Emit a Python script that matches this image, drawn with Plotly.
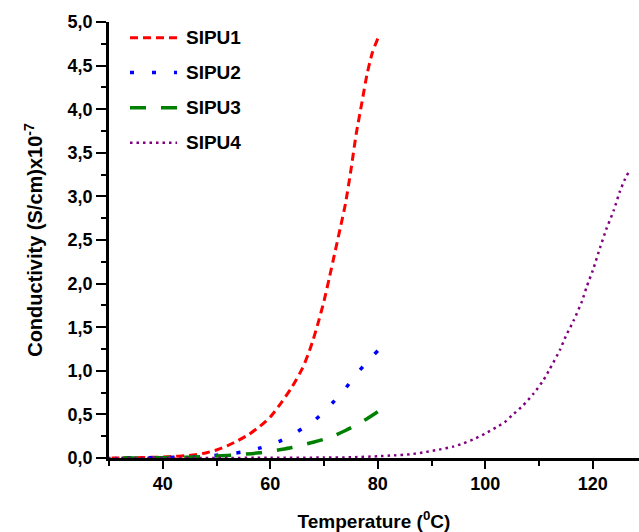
import plotly.graph_objects as go

# Conductivity (x10^-7 S/cm) versus temperature (deg C) for four samples
t_sipu1 = [30, 32, 34, 36, 38, 40, 42, 44, 46, 48, 50, 52, 54, 56, 58, 60, 62, 64,
           66, 67, 68, 69, 70, 71, 72, 73, 74, 75, 76, 77, 78, 79, 80]
c_sipu1 = [0.000, 0.001, 0.003, 0.005, 0.008, 0.012, 0.017, 0.025, 0.037, 0.058,
           0.092, 0.14, 0.20, 0.27, 0.36, 0.47, 0.63, 0.81, 1.03, 1.18, 1.36, 1.57,
           1.80, 2.07, 2.35, 2.63, 2.92, 3.30, 3.72, 4.06, 4.40, 4.65, 4.81]

t_sipu2 = [30, 35, 40, 44, 48, 51, 55, 58, 60, 62, 64, 66, 68, 70, 72, 74, 76, 78, 80]
c_sipu2 = [0.000, 0.002, 0.005, 0.010, 0.020, 0.038, 0.070, 0.113, 0.15, 0.20,
           0.26, 0.34, 0.42, 0.53, 0.66, 0.80, 0.96, 1.10, 1.23]

t_sipu3 = [30, 35, 40, 45, 50, 52, 55, 58, 60, 62, 64, 66, 68, 70, 72, 74, 76, 78, 80]
c_sipu3 = [0.000, 0.001, 0.004, 0.010, 0.022, 0.030, 0.042, 0.060, 0.078, 0.097,
           0.12, 0.15, 0.18, 0.215, 0.26, 0.315, 0.38, 0.45, 0.53]

t_sipu4 = [30, 40, 50, 60, 70, 75, 80, 83, 86, 89, 91.4, 94, 95.8, 98, 100, 102,
           103.6, 105, 107, 109, 110.8, 112, 113.9, 115, 116.4, 118, 118.9, 120,
           121.4, 122.5, 123.9, 125, 126, 126.6]
c_sipu4 = [0.000, 0.000, 0.001, 0.002, 0.005, 0.008, 0.020, 0.030, 0.042, 0.070,
           0.096, 0.13, 0.165, 0.22, 0.28, 0.35, 0.41, 0.49, 0.60, 0.74, 0.89,
           1.02, 1.24, 1.40, 1.57, 1.80, 1.97, 2.15, 2.42, 2.62, 2.84, 3.05, 3.20,
           3.27]

names = ["SIPU1", "SIPU2", "SIPU3", "SIPU4"]
colors = ["#FF0000", "#0000FF", "#008000", "#800080"]
widths = [3, 3.5, 3.5, 2.5]
dashes = ["8px,5px", "4px,18px", "16px,15px", "2.5px,4px"]
series = [(t_sipu1, c_sipu1), (t_sipu2, c_sipu2), (t_sipu3, c_sipu3), (t_sipu4, c_sipu4)]

FONT = "Liberation Sans, Arial, sans-serif"
W, H = 639, 532
ML, MR, MT, MB = 109, 0, 22, 74
PW, PH = W - ML - MR, H - MT - MB

fig = go.Figure()
for (t, c), name, col, w, d in zip(series, names, colors, widths, dashes):
    # traced from the hot end so the dash pattern starts with a visible stroke there
    fig.add_trace(go.Scatter(
        x=t[::-1], y=c[::-1], mode="lines", name=name, showlegend=False,
        line=dict(color=col, width=w, dash=d, shape="spline", smoothing=0.6),
    ))

# Legend drawn as line samples with labels in the upper left corner
legend_rows_px = [37.7, 72.5, 107.7, 142.7]
x0_px, x1_px, xt_px = 130, 177, 184
shapes, annotations = [], []
for name, col, w, d, ypx in zip(names, colors, widths, dashes, legend_rows_px):
    yp = (H - MB - ypx) / PH
    shapes.append(dict(
        type="line", xref="paper", yref="paper",
        x0=(x0_px - ML) / PW, x1=(x1_px - ML) / PW, y0=yp, y1=yp,
        line=dict(color=col, width=w, dash=d),
    ))
    annotations.append(dict(
        xref="paper", yref="paper", x=(xt_px - ML) / PW, y=yp,
        xanchor="left", yanchor="middle", showarrow=False, text=name,
        font=dict(family=FONT, size=19, color="#000000", weight=700),
    ))

fig.update_layout(
    width=W, height=H,
    margin=dict(l=ML, r=MR, t=MT, b=MB, pad=0),
    paper_bgcolor="white", plot_bgcolor="white",
    separators=",.",
    shapes=shapes, annotations=annotations,
    showlegend=False,
)

fig.update_xaxes(
    range=[30, 128.6], showgrid=False, zeroline=False,
    showline=True, linecolor="black", linewidth=2.5,
    ticks="outside", ticklen=8, tickwidth=2.2, tickcolor="black",
    tick0=0, dtick=20,
    minor=dict(ticks="outside", ticklen=5, tickwidth=2, tickcolor="black", dtick=10),
    tickfont=dict(family=FONT, size=18, color="black", weight=700),
    title=dict(text="Temperature (<sup>0</sup>C)", standoff=22,
               font=dict(family=FONT, size=19, color="black", weight=700)),
    automargin=False,
)
fig.update_yaxes(
    range=[0, 5], showgrid=False, zeroline=False,
    showline=True, linecolor="black", linewidth=2.5,
    ticks="outside", ticklen=10, tickwidth=2.2, tickcolor="black",
    tick0=0, dtick=0.5, tickformat=".1f",
    minor=dict(ticks="outside", ticklen=5, tickwidth=2, tickcolor="black", dtick=0.25),
    tickfont=dict(family=FONT, size=18, color="black", weight=700),
    title=dict(text="Conductivity (S/cm)x10<sup>-7</sup>", standoff=20,
               font=dict(family=FONT, size=20, color="black", weight=700)),
    automargin=False,
)

fig.write_html("out.html")
